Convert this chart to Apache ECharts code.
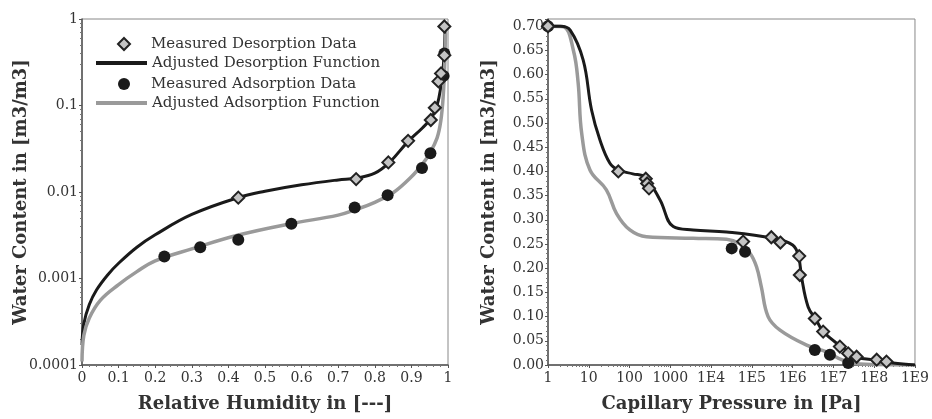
<!DOCTYPE html>
<html>
<head>
  <meta charset="utf-8">
  <title>Water content vs RH and capillary pressure</title>
  <script src="https://cdn.jsdelivr.net/npm/echarts@6/dist/echarts.min.js"></script>
</head>
<style media="screen">
  html, body, #chart { margin: 0; padding: 0; width: 932px; height: 419px; background: #fff; }
</style>
<body>
  <div id="chart"></div>
  <script type="text/javascript">
    // left panel: relative humidity (linear) vs water content (log)
    var rhDesMeas = [0.427, 0.749, 0.837, 0.891, 0.953, 0.964, 0.974, 0.981, 0.99, 0.99];
    var wcDesMeas = [0.0086, 0.0141, 0.022, 0.039, 0.068, 0.094, 0.19, 0.235, 0.38, 0.82];
    var rhAdsMeas = [0.225, 0.323, 0.427, 0.572, 0.745, 0.835, 0.929, 0.952, 0.988, 0.99];
    var wcAdsMeas = [0.0018, 0.0023, 0.0028, 0.0043, 0.0066, 0.0092, 0.019, 0.028, 0.22, 0.40];
    var rhDesFit = [0, 0.005, 0.02, 0.04, 0.07, 0.1, 0.15, 0.2, 0.3, 0.43, 0.5, 0.6, 0.7, 0.75, 0.8, 0.84, 0.89, 0.93, 0.955, 0.97, 0.98, 0.987, 0.99, 0.992];
    var wcDesFit = [0.00017, 0.0003, 0.0005, 0.00074, 0.0011, 0.0015, 0.0023, 0.0032, 0.0055, 0.0087, 0.0102, 0.0121, 0.0138, 0.0145, 0.0165, 0.022, 0.038, 0.055, 0.072, 0.1, 0.16, 0.28, 0.45, 0.75];
    var rhAdsFit = [0, 0.005, 0.02, 0.05, 0.1, 0.15, 0.2, 0.3, 0.43, 0.57, 0.7, 0.75, 0.8, 0.85, 0.9, 0.93, 0.95, 0.97, 0.98, 0.987, 0.991, 0.993];
    var wcAdsFit = [0.00011, 0.00022, 0.00035, 0.00056, 0.00085, 0.0012, 0.0016, 0.0022, 0.0032, 0.0043, 0.0054, 0.0063, 0.0076, 0.0098, 0.015, 0.021, 0.028, 0.042, 0.065, 0.13, 0.3, 0.68];

    // right panel: capillary pressure (log) vs water content (linear)
    var pcDesMeas = [1, 53, 250, 270, 300, 6.1e4, 3e5, 5e5, 1.45e6, 1.5e6, 3.5e6, 5.6e6, 1.44e7, 2.3e7, 3.7e7, 1.15e8, 2e8];
    var wcDesMeasR = [0.70, 0.40, 0.385, 0.375, 0.365, 0.255, 0.264, 0.253, 0.225, 0.186, 0.096, 0.069, 0.038, 0.024, 0.017, 0.011, 0.007];
    var pcAdsMeas = [1, 3.2e4, 6.8e4, 3.5e6, 8.2e6, 2.3e7];
    var wcAdsMeasR = [0.70, 0.241, 0.234, 0.031, 0.021, 0.004];
    var pcDesFit = [1, 2, 3.5, 7.3, 11.7, 18.8, 33, 53, 120, 240, 560, 1180, 3600, 24000, 330000, 1e6, 1.4e6, 1.65e6, 2.4e6, 3.8e6, 5.6e6, 1.4e7, 3.7e7, 1.1e8, 2.9e8, 1e9];
    var wcDesFitR = [0.70, 0.70, 0.692, 0.63, 0.527, 0.465, 0.417, 0.403, 0.395, 0.388, 0.341, 0.286, 0.279, 0.275, 0.262, 0.248, 0.224, 0.182, 0.12, 0.093, 0.069, 0.041, 0.017, 0.01, 0.004, 0];
    var pcAdsFit = [1, 2.4, 4.2, 5.5, 6.7, 10.7, 27, 48, 102, 260, 3600, 24000, 5e4, 9e4, 1.3e5, 1.7e5, 2.5e5, 4.9e5, 2.2e6, 6.8e6, 1.7e7, 4.4e7, 1e9];
    var wcAdsFitR = [0.70, 0.699, 0.65, 0.582, 0.479, 0.403, 0.362, 0.313, 0.279, 0.265, 0.262, 0.26, 0.251, 0.231, 0.203, 0.162, 0.1, 0.072, 0.041, 0.027, 0.010, 0.002, 0];

    var names = ['Measured Desorption Data', 'Adjusted Desorption Function',
                 'Measured Adsorption Data', 'Adjusted Adsorption Function'];

    function pairs(xs, ys) {
      return xs.map(function (x, i) { return [x, ys[i]]; });
    }

    var FONT = 'DejaVu Serif';
    var dark = '#1a1a1a';
    var grey = '#9a9a9a';

    var labelStyle = { fontFamily: FONT, fontSize: 14, color: '#333' };
    var nameStyle = { fontFamily: FONT, fontSize: 18, fontWeight: 'bold', color: '#333' };
    var axisLine = { lineStyle: { color: '#555', width: 1.5 } };
    var tick = { length: 3, lineStyle: { color: '#555' } };
    var minor = { show: true, length: 2, lineStyle: { color: '#777' } };

    var fitLine = function (name, color, w, xi, data) {
      return {
        name: name, type: 'line', xAxisIndex: xi, yAxisIndex: xi,
        data: data, symbol: 'none', smooth: 0.4,
        lineStyle: { color: color, width: w }, itemStyle: { color: color }, z: 2
      };
    };
    var diamonds = function (xi, data) {
      return {
        name: names[0], type: 'scatter', xAxisIndex: xi, yAxisIndex: xi,
        data: data, symbol: 'diamond', symbolSize: 12,
        itemStyle: { color: '#c4c4c4', borderColor: '#222', borderWidth: 2, opacity: 1 }, z: 4
      };
    };
    var dots = function (xi, data) {
      return {
        name: names[2], type: 'scatter', xAxisIndex: xi, yAxisIndex: xi,
        data: data, symbol: 'circle', symbolSize: 12,
        itemStyle: { color: dark, opacity: 1 }, z: 3
      };
    };

    var chart = echarts.init(document.getElementById('chart'), null, { renderer: 'canvas' });
    chart.setOption({
      animation: false,
      legend: [{
        // marker rows (1st and 3rd)
        data: [
          { name: names[0], icon: 'path://M0,-1L1,0L0,1L-1,0Z' },
          { name: names[2], icon: 'circle' }
        ],
        orient: 'vertical', left: 117, top: 36, padding: 0,
        itemWidth: 12, itemHeight: 12, itemGap: 24,
        textStyle: { fontFamily: FONT, fontSize: 15, lineHeight: 16, color: '#333', padding: [0, 0, 0, 16] }
      }, {
        // line rows (2nd and 4th)
        data: [
          { name: names[1], icon: 'rect' },
          { name: names[3], icon: 'rect' }
        ],
        orient: 'vertical', left: 96, top: 55, padding: 0,
        itemWidth: 51, itemHeight: 4, itemGap: 24,
        textStyle: { fontFamily: FONT, fontSize: 15, lineHeight: 16, color: '#333' }
      }],
      grid: [
        { left: 82, right: 484, top: 19, bottom: 54, show: true, borderColor: '#888', borderWidth: 1 },
        { left: 548, right: 17, top: 19, bottom: 54, show: true, borderColor: '#888', borderWidth: 1 }
      ],
      xAxis: [{
        type: 'value', gridIndex: 0, min: 0, max: 1, interval: 0.1,
        name: 'Relative Humidity in [---]', nameLocation: 'middle', nameGap: 30, nameTextStyle: nameStyle,
        nameMoveOverlap: false,
        axisLine: axisLine, axisTick: tick, minorTick: minor, splitLine: { show: false },
        axisLabel: Object.assign({ margin: 6 }, labelStyle)
      }, {
        type: 'log', gridIndex: 1, logBase: 10, min: 1, max: 1e9, interval: 1,
        name: 'Capillary Pressure in [Pa]', nameLocation: 'middle', nameGap: 30, nameTextStyle: nameStyle,
        nameMoveOverlap: false,
        axisLine: axisLine, axisTick: tick, minorTick: Object.assign({ splitNumber: 9 }, minor), splitLine: { show: false },
        axisLabel: Object.assign({
          margin: 6,
          formatter: function (v) {
            var e = Math.round(Math.log10(v));
            return e <= 3 ? String(Math.pow(10, e)) : '1E' + e;
          }
        }, labelStyle)
      }],
      yAxis: [{
        type: 'log', gridIndex: 0, logBase: 10, min: 0.0001, max: 1, interval: 1,
        name: 'Water Content in [m3/m3]', nameLocation: 'middle', nameGap: 52, nameTextStyle: nameStyle,
        nameMoveOverlap: false,
        axisLine: axisLine, axisTick: tick, minorTick: Object.assign({ splitNumber: 9 }, minor), splitLine: { show: false },
        axisLabel: Object.assign({
          margin: 4,
          formatter: function (v) { return String(+v.toPrecision(1)); }
        }, labelStyle)
      }, {
        type: 'value', gridIndex: 1, min: 0, max: 0.715, interval: 0.05,
        name: 'Water Content in [m3/m3]', nameLocation: 'middle', nameGap: 50, nameTextStyle: nameStyle,
        nameMoveOverlap: false,
        axisLine: axisLine, axisTick: tick, minorTick: Object.assign({ splitNumber: 5 }, minor), splitLine: { show: false },
        axisLabel: Object.assign({
          margin: 4, showMaxLabel: false,
          formatter: function (v) { return v.toFixed(2); }
        }, labelStyle)
      }],
      series: [
        diamonds(0, pairs(rhDesMeas, wcDesMeas)),
        fitLine(names[1], dark, 3, 0, pairs(rhDesFit, wcDesFit)),
        dots(0, pairs(rhAdsMeas, wcAdsMeas)),
        fitLine(names[3], grey, 3.5, 0, pairs(rhAdsFit, wcAdsFit)),
        fitLine(names[3], grey, 3.5, 1, pairs(pcAdsFit, wcAdsFitR)),
        fitLine(names[1], dark, 3, 1, pairs(pcDesFit, wcDesFitR)),
        dots(1, pairs(pcAdsMeas, wcAdsMeasR)),
        diamonds(1, pairs(pcDesMeas, wcDesMeasR))
      ]
    });
  </script>
</body>
</html>
